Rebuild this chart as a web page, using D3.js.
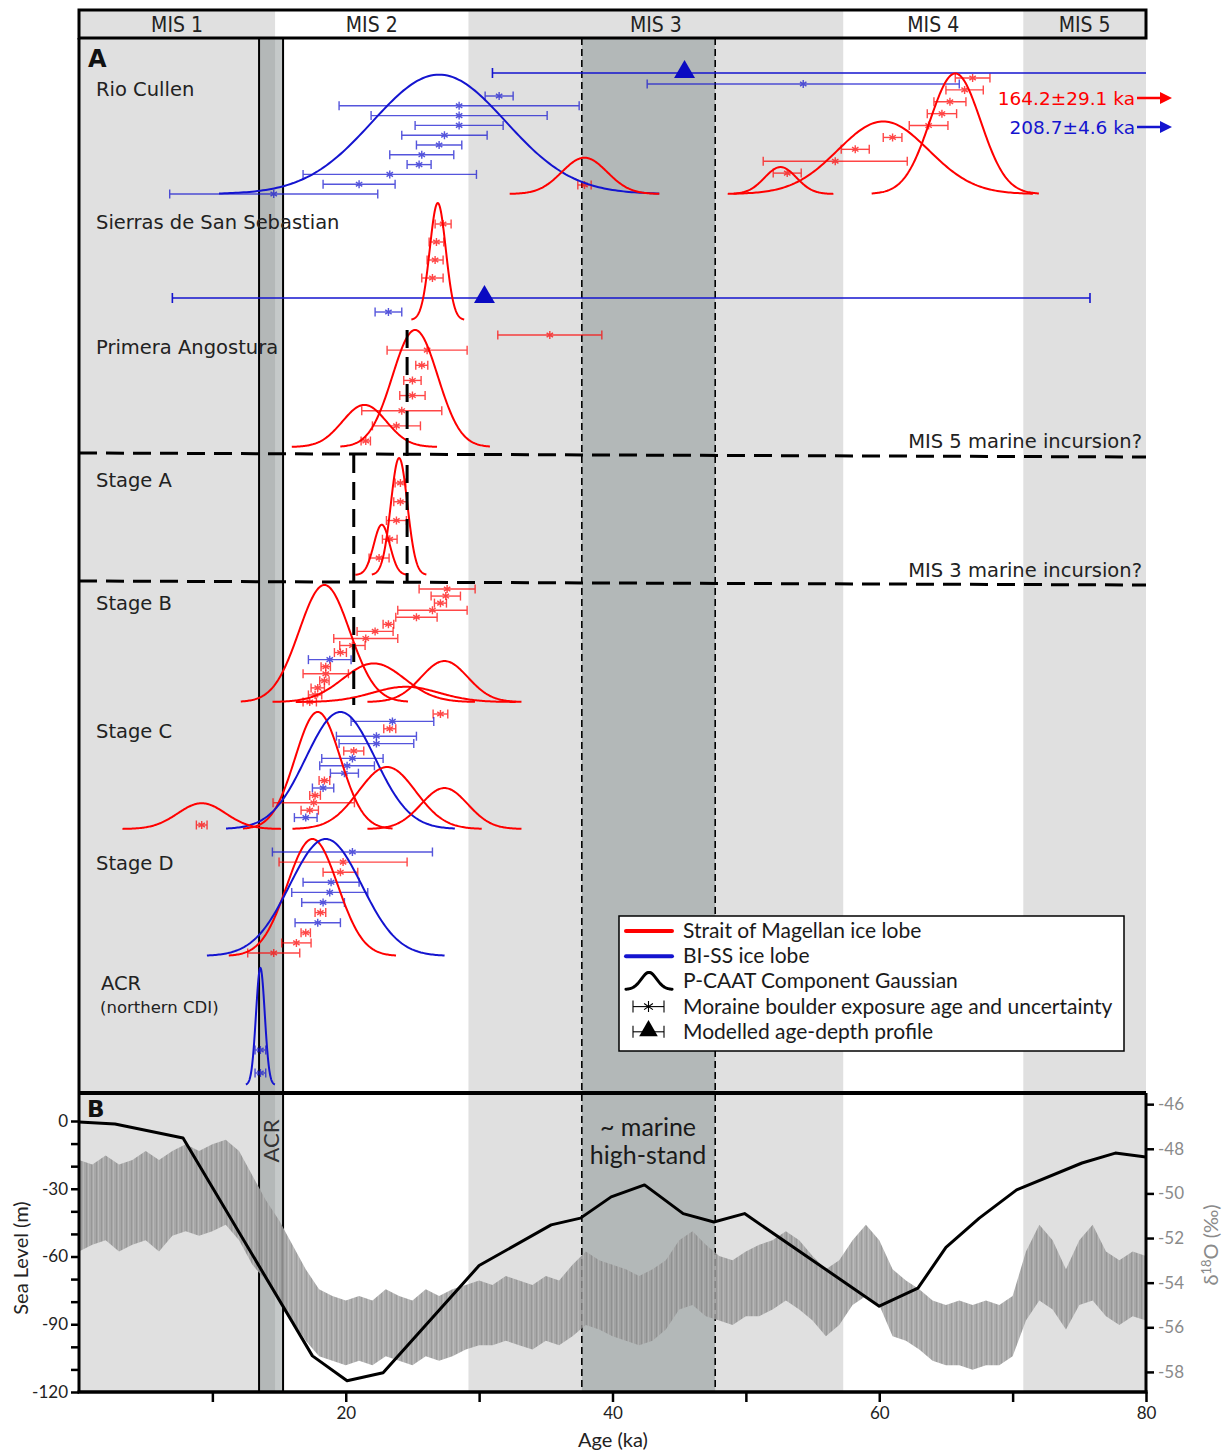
<!DOCTYPE html>
<html>
<head>
<meta charset="utf-8">
<script src="https://cdn.jsdelivr.net/npm/d3@7"></script>
<style>
body { margin: 0; background: #fff; }
text { font-family: "DejaVu Sans", sans-serif; }
</style>
</head>
<body>
<svg id="chart" width="1226" height="1453"></svg>
<script>
// ---- data ----
var misNames = ["MIS 1", "MIS 2", "MIS 3", "MIS 4", "MIS 5"];
var misBounds = [0, 14.7, 29.2, 57.3, 70.8, 80];
var highStand = [37.7, 47.7];
var acrBand = [13.5, 15.3];
var stageBounds = [20.6, 24.6];

var siteNames = ["Rio Cullen", "Sierras de San Sebastian", "Primera Angostura", "Stage A", "Stage B", "Stage C", "Stage D", "ACR"];

// P-CAAT component gaussians: site, lobe (M = Magellan, B = BI-SS), mean ka, sd ka, relative height
var gaussians = [
  [0, "B", 27.0, 5.0, 1.02],
  [0, "M", 37.9, 1.7, 0.31],
  [0, "M", 52.6, 1.2, 0.23],
  [0, "M", 60.3, 3.4, 0.62],
  [0, "M", 65.7, 1.9, 1.03],
  [1, "M", 26.9, 0.6, 1.0],
  [2, "M", 25.2, 1.7, 1.0],
  [2, "M", 21.4, 1.65, 0.36],
  [3, "M", 24.0, 0.62, 1.0],
  [3, "M", 22.7, 0.6, 0.43],
  [4, "M", 18.4, 1.9, 1.0],
  [4, "M", 22.1, 2.3, 0.33],
  [4, "M", 27.4, 1.75, 0.35],
  [4, "M", 24.5, 2.5, 0.13],
  [5, "M", 17.9, 1.7, 1.0],
  [5, "B", 19.6, 2.6, 1.0],
  [5, "M", 23.1, 2.15, 0.53],
  [5, "M", 27.4, 1.75, 0.35],
  [5, "M", 9.2, 1.8, 0.22],
  [6, "M", 17.5, 1.9, 1.0],
  [6, "B", 18.5, 2.7, 1.0],
  [7, "B", 13.6, 0.33, 1.0]
];

// boulder exposure ages: age, uncertainty, lobe
var rioCullenBI = [[31.5, 1.05, "B"], [28.5, 9.0, "B"], [28.5, 6.6, "B"], [28.5, 3.3, "B"], [27.4, 3.2, "B"], [27.0, 1.7, "B"],
  [25.7, 2.4, "B"], [25.5, 0.9, "B"], [23.3, 6.5, "B"], [21.0, 2.7, "B"], [14.6, 7.8, "B"]];
var rioCullenSM = [[67.0, 1.3, "M"], [66.4, 1.4, "M"], [65.3, 1.2, "M"], [64.7, 1.1, "M"], [63.7, 1.45, "M"], [61.0, 0.7, "M"],
  [58.2, 1.05, "M"], [56.7, 5.4, "M"], [53.1, 1.05, "M"], [37.9, 0.5, "M"]];
var rioCullenBI2 = [[54.3, 11.7, "B"]];
var sierrasSM = [[27.3, 0.6, "M"], [26.8, 0.55, "M"], [26.7, 0.6, "M"], [26.5, 0.8, "M"]];
var sierrasBI = [[23.2, 1.0, "B"]];
var primeraSM = [[35.3, 3.9, "M"], [26.1, 3.0, "M"], [25.7, 0.45, "M"], [25.0, 0.65, "M"], [25.0, 0.95, "M"],
  [24.2, 3.0, "M"], [23.8, 1.8, "M"], [21.5, 0.35, "M"]];
var stageA = [[24.1, 0.4, "M"], [24.1, 0.5, "M"], [23.8, 0.75, "M"], [23.3, 0.55, "M"], [22.5, 0.75, "M"]];
var stageB = [[27.6, 2.1, "M"], [27.5, 1.1, "M"], [27.1, 0.45, "M"], [26.5, 2.6, "M"], [25.3, 1.55, "M"], [23.2, 0.4, "M"],
  [22.2, 1.35, "M"], [21.5, 2.4, "M"], [20.5, 0.95, "M"], [19.6, 0.45, "M"], [18.8, 1.6, "B"], [18.5, 0.35, "M"],
  [18.5, 1.7, "M"], [18.4, 0.35, "M"], [17.9, 0.5, "M"], [17.7, 0.5, "M"], [17.3, 0.5, "M"]];
var stageC = [[27.1, 0.55, "M"], [23.5, 3.1, "B"], [23.3, 0.45, "M"], [22.3, 3.0, "B"], [22.3, 2.8, "B"], [20.6, 0.75, "M"],
  [20.5, 2.3, "B"], [20.1, 2.05, "B"], [19.9, 1.05, "B"], [18.4, 0.4, "M"], [18.3, 0.8, "B"], [17.7, 0.4, "M"],
  [17.6, 3.05, "M"], [17.3, 0.65, "M"], [17.0, 0.85, "B"], [9.2, 0.4, "M"]];
var stageD = [[20.5, 6.0, "B"], [19.8, 4.8, "M"], [19.6, 1.3, "M"], [18.9, 2.1, "B"], [18.8, 2.85, "B"], [18.3, 1.6, "B"],
  [18.1, 0.4, "M"], [17.9, 1.7, "B"], [17.0, 0.35, "M"], [16.3, 1.1, "M"], [14.6, 1.95, "M"]];
var acrBI = [[13.6, 0.4, "B"], [13.6, 0.4, "B"]];

// modelled age-depth profiles: age, lower, upper (null = beyond the axis)
var modelledAges = [[45.4, 31.0, null], [30.4, 7.0, 75.8]];
// ages off the right of the scale
var offScale = [[164.2, 29.1, "M"], [208.7, 4.6, "B"]];

// sea level (m)
var seaAge = [0, 2.7, 7.8, 17.5, 20.1, 22.8, 30.0, 35.4, 37.6, 39.9, 42.4, 45.3, 47.6, 49.9, 60.0, 62.9, 65.0, 67.5, 70.3, 75.2, 77.7, 80];
var seaLevel = [-0.4, -1.3, -7.5, -104, -115, -111.5, -64, -46, -43, -33.6, -28.3, -41, -44.7, -41, -82, -74, -56, -43, -30.5, -18.6, -14.2, -16];

// d18O record, envelope read every 1 ka (permil)
var isoAge = d3.range(0, 81);
var isoHigh = [-48.5, -48.7, -48.3, -48.7, -48.5, -48.1, -48.5, -48.1, -47.8, -48.1, -47.8, -47.6, -48.1, -49.2, -50.3, -51.2, -52.3,
  -53.4, -54.3, -54.6, -54.8, -54.6, -54.8, -54.3, -54.6, -54.8, -54.3, -54.6, -54.3, -54.1, -53.9, -54.1, -53.7, -53.9,
  -54.1, -53.7, -53.9, -53.2, -52.6, -53.0, -53.2, -53.4, -53.7, -53.4, -53.0, -52.1, -51.7, -52.3, -52.8, -53.0, -52.6,
  -52.3, -52.1, -51.7, -52.1, -52.8, -53.4, -53.0, -52.1, -51.4, -52.1, -53.4, -53.9, -54.3, -54.8, -55.0, -54.8, -55.0,
  -54.8, -55.0, -54.6, -52.6, -51.4, -52.1, -53.4, -52.1, -51.4, -52.6, -53.0, -52.6, -52.8];
var isoLow = [-52.6, -52.3, -52.1, -52.6, -52.3, -52.1, -52.6, -51.9, -51.7, -51.9, -51.7, -51.4, -52.1, -53.2, -53.9, -54.8, -55.7,
  -56.6, -57.3, -57.5, -57.7, -57.5, -57.7, -57.3, -57.5, -57.7, -57.3, -57.5, -57.3, -57.0, -56.8, -56.8, -56.6, -56.8,
  -57.0, -56.6, -56.8, -56.4, -55.9, -56.1, -56.4, -56.6, -56.8, -56.6, -56.1, -55.2, -55.0, -55.5, -55.7, -55.9, -55.5,
  -55.5, -55.2, -54.8, -55.2, -55.7, -56.4, -55.9, -55.0, -54.6, -55.0, -56.4, -56.6, -57.0, -57.5, -57.7, -57.7, -57.9,
  -57.7, -57.7, -57.3, -55.7, -54.8, -55.2, -56.1, -55.0, -54.8, -55.5, -55.9, -55.5, -55.7];

var seaTicks = d3.range(-120, 1, 10);
var isoTicks = [-46, -48, -50, -52, -54, -56, -58];
var ageTicks = d3.range(10, 81, 10);

// ---- layout ----
var left = 79, right = 1146;
var headTop = 10, aTop = 38, bTop = 1093, bBot = 1392;
var siteLabelY = [89, 222, 347, 480, 603, 731, 863, 983];
var baselines = [194, 320, 447, 575, 702, 829, 956, 1085];
var gaussFull = 117;
var boulderRows = [
  [rioCullenBI, 96, 194], [rioCullenSM, 78, 185], [rioCullenBI2, 84, 84],
  [sierrasSM, 224, 278], [sierrasBI, 312, 312], [primeraSM, 335, 441],
  [stageA, 483, 558], [stageB, 589, 702], [stageC, 714, 825], [stageD, 852, 953], [acrBI, 1050, 1073]
];
var modelledRows = [73, 298];
var offScaleRows = [98, 127];

var red = "#ff0000", blue = "#1414cf", lightGrey = "#e0e0e0", darkGrey = "#b3b8b8";
function lobeColor(l) { return l === "M" ? red : blue; }

var x = d3.scaleLinear().domain([0, 80]).range([left, right]);
var seaY = d3.scaleLinear().domain([-120, 12.4]).range([bBot, bTop]);
var isoY = d3.scaleLinear().domain([-58.9, -45.5]).range([bBot, bTop]);

var svg = d3.select("#chart");
var defs = svg.append("defs");
defs.append("clipPath").attr("id", "clipA").append("rect")
  .attr("x", left).attr("y", aTop).attr("width", right - left).attr("height", bTop - aTop);
defs.append("clipPath").attr("id", "clipB").append("rect")
  .attr("x", left).attr("y", bTop).attr("width", right - left).attr("height", bBot - bTop);
// hatch texture for the dense d18O record
var pat = defs.append("pattern").attr("id", "isoTex").attr("patternUnits", "userSpaceOnUse")
  .attr("width", 5).attr("height", 40);
pat.append("rect").attr("width", 5).attr("height", 40).attr("fill", "#9d9d9d");
pat.append("rect").attr("x", 1).attr("width", 1).attr("height", 40).attr("fill", "#8a8a8a");
pat.append("rect").attr("x", 3).attr("width", 1).attr("height", 40).attr("fill", "#b0b0b0");

// background bands
function shade(y0, y1, withExtra) {
  misNames.forEach(function(n, i) {
    if (i % 2 === 0) {
      svg.append("rect").attr("x", x(misBounds[i])).attr("width", x(misBounds[i + 1]) - x(misBounds[i]))
        .attr("y", y0).attr("height", y1 - y0).attr("fill", lightGrey);
    }
  });
  if (withExtra) {
    svg.append("rect").attr("x", x(highStand[0])).attr("width", x(highStand[1]) - x(highStand[0]))
      .attr("y", y0).attr("height", y1 - y0).attr("fill", darkGrey);
    svg.append("rect").attr("x", x(acrBand[0])).attr("width", x(acrBand[1]) - x(acrBand[0]))
      .attr("y", y0).attr("height", y1 - y0).attr("fill", "#7f8787").attr("opacity", 0.45);
  }
}
shade(headTop, aTop, false);
shade(aTop, bTop, true);
shade(bTop, bBot, true);

// MIS header
misNames.forEach(function(n, i) {
  svg.append("text").attr("x", (x(misBounds[i]) + x(misBounds[i + 1])) / 2).attr("y", 32)
    .attr("text-anchor", "middle").attr("font-size", 21)
    .style("font-family", "'DejaVu Sans Condensed', 'Liberation Sans Narrow', 'DejaVu Sans'")
    .style("font-stretch", "condensed").attr("fill", "#222").text(n);
});
svg.append("rect").attr("x", left).attr("y", headTop).attr("width", right - left).attr("height", aTop - headTop)
  .attr("fill", "none").attr("stroke", "#000").attr("stroke-width", 3);

// vertical reference lines
highStand.forEach(function(a) {
  svg.append("line").attr("x1", x(a)).attr("x2", x(a)).attr("y1", aTop).attr("y2", bBot)
    .attr("stroke", "#000").attr("stroke-width", 1.6).attr("stroke-dasharray", "7,4");
});
acrBand.forEach(function(a) {
  svg.append("line").attr("x1", x(a)).attr("x2", x(a)).attr("y1", aTop).attr("y2", bBot)
    .attr("stroke", "#000").attr("stroke-width", 2);
});

// ---- panel A ----
var pa = svg.append("g").attr("clip-path", "url(#clipA)");

// boulder error bars
function asterisk(g, cx, cy, r) {
  g.append("path").attr("d",
    "M" + cx + "," + (cy - r) + "L" + cx + "," + (cy + r) +
    "M" + (cx - r * 0.8) + "," + (cy - r * 0.55) + "L" + (cx + r * 0.8) + "," + (cy + r * 0.55) +
    "M" + (cx - r * 0.8) + "," + (cy + r * 0.55) + "L" + (cx + r * 0.8) + "," + (cy - r * 0.55));
}
boulderRows.forEach(function(grp) {
  var rows = grp[0];
  var ys = d3.scalePoint().domain(d3.range(rows.length)).range([grp[1], grp[2]]);
  rows.forEach(function(d, i) {
    var yy = rows.length > 1 ? ys(i) : grp[1];
    var g = pa.append("g").attr("stroke", lobeColor(d[2])).attr("stroke-width", 1.4).attr("opacity", 0.72).attr("fill", "none");
    var x0 = x(d[0] - d[1]), x1 = x(d[0] + d[1]);
    g.append("line").attr("x1", x0).attr("x2", x1).attr("y1", yy).attr("y2", yy);
    g.append("line").attr("x1", x0).attr("x2", x0).attr("y1", yy - 4.5).attr("y2", yy + 4.5);
    g.append("line").attr("x1", x1).attr("x2", x1).attr("y1", yy - 4.5).attr("y2", yy + 4.5);
    asterisk(g, x(d[0]), yy, 4);
  });
});

// modelled age-depth profiles
modelledAges.forEach(function(d, i) {
  var yy = modelledRows[i];
  var xe = d[2] === null ? right + 10 : x(d[2]);
  var g = pa.append("g").attr("stroke", blue).attr("stroke-width", 1.6);
  g.append("line").attr("x1", x(d[1])).attr("x2", xe).attr("y1", yy).attr("y2", yy);
  g.append("line").attr("x1", x(d[1])).attr("x2", x(d[1])).attr("y1", yy - 5).attr("y2", yy + 5);
  if (d[2] !== null) g.append("line").attr("x1", xe).attr("x2", xe).attr("y1", yy - 5).attr("y2", yy + 5);
  pa.append("path").attr("d", d3.symbol().type(d3.symbolTriangle).size(190)())
    .attr("transform", "translate(" + x(d[0]) + "," + (yy - 1) + ")").attr("fill", "#0a0ac2");
});

// gaussians
gaussians.forEach(function(gs) {
  var base = baselines[gs[0]], mu = gs[2], sd = gs[3], amp = gs[4];
  var pts = d3.range(0, 161).map(function(k) { return mu - 3.3 * sd + k * 6.6 * sd / 160; });
  var line = d3.line()
    .x(function(a) { return x(a); })
    .y(function(a) { return base - amp * gaussFull * Math.exp(-0.5 * Math.pow((a - mu) / sd, 2)); });
  pa.append("path").attr("d", line(pts)).attr("fill", "none")
    .attr("stroke", lobeColor(gs[1])).attr("stroke-width", 2);
});

// stage boundaries (marine incursions)
var dash = { "stroke": "#000", "stroke-width": 3, "stroke-dasharray": "18,9" };
function dashed(x1, y1, x2, y2) {
  var l = svg.append("line").attr("x1", x1).attr("y1", y1).attr("x2", x2).attr("y2", y2);
  Object.keys(dash).forEach(function(k) { l.attr(k, dash[k]); });
}
dashed(left, 453, right, 457);
dashed(left, 581, right, 585);
dashed(x(stageBounds[0]), 455, x(stageBounds[0]), 705);
dashed(x(stageBounds[1]), 330, x(stageBounds[1]), 583);

svg.append("text").attr("x", 1142).attr("y", 448).attr("text-anchor", "end").attr("font-size", 19.5)
  .attr("fill", "#222").text("MIS 5 marine incursion?");
svg.append("text").attr("x", 1142).attr("y", 577).attr("text-anchor", "end").attr("font-size", 19.5)
  .attr("fill", "#222").text("MIS 3 marine incursion?");

// site labels
siteNames.forEach(function(n, i) {
  svg.append("text").attr("x", i === 7 ? 101 : 96).attr("y", siteLabelY[i] + 7)
    .attr("font-size", 19.5).attr("fill", "#222").text(n);
});
svg.append("text").attr("x", 100).attr("y", 1013).attr("font-size", 16.5).attr("fill", "#222").text("(northern CDI)");
svg.append("text").attr("x", 88).attr("y", 67).attr("font-size", 24).attr("font-weight", "bold").attr("fill", "#111").text("A");

// off-scale ages with arrows
offScale.forEach(function(d, i) {
  var yy = offScaleRows[i], c = lobeColor(d[2]);
  svg.append("text").attr("x", 1135).attr("y", yy + 7).attr("text-anchor", "end").attr("font-size", 18.5)
    .attr("fill", c).text(d[0].toFixed(1) + "\u00b1" + d[1].toFixed(1) + " ka");
  svg.append("line").attr("x1", 1137).attr("x2", 1162).attr("y1", yy).attr("y2", yy).attr("stroke", c).attr("stroke-width", 2.5);
  svg.append("path").attr("d", "M1160," + (yy - 6) + "L1172," + yy + "L1160," + (yy + 6) + "Z").attr("fill", c);
});

// legend
var legendItems = ["Strait of Magellan ice lobe", "BI-SS ice lobe", "P-CAAT Component Gaussian",
  "Moraine boulder exposure age and uncertainty", "Modelled age-depth profile"];
var lg = svg.append("g");
lg.append("rect").attr("x", 619).attr("y", 916).attr("width", 505).attr("height", 135)
  .attr("fill", "#fff").attr("stroke", "#000").attr("stroke-width", 1.5);
legendItems.forEach(function(t, i) {
  var yy = 931 + i * 25.2;
  lg.append("text").attr("x", 683).attr("y", yy + 7).attr("font-size", 21).style("font-family", "Lato")
    .attr("fill", "#1a1a1a").text(t);
  if (i < 2) {
    lg.append("line").attr("x1", 626).attr("x2", 672).attr("y1", yy).attr("y2", yy)
      .attr("stroke", i === 0 ? red : blue).attr("stroke-width", 4).attr("stroke-linecap", "round");
  } else if (i === 2) {
    var bump = d3.line().x(function(t) { return 649 + t * 7.7; })
      .y(function(t) { return yy + 8 - 17 * Math.exp(-t * t / 2); });
    lg.append("path").attr("d", bump(d3.range(-3, 3.01, 0.1))).attr("fill", "none")
      .attr("stroke", "#000").attr("stroke-width", 3).attr("stroke-linecap", "round");
  } else {
    var g = lg.append("g").attr("stroke", "#000").attr("stroke-width", 1.1);
    g.append("line").attr("x1", 633).attr("x2", 664).attr("y1", yy).attr("y2", yy);
    g.append("line").attr("x1", 633).attr("x2", 633).attr("y1", yy - 6).attr("y2", yy + 6);
    g.append("line").attr("x1", 664).attr("x2", 664).attr("y1", yy - 6).attr("y2", yy + 6);
    if (i === 3) asterisk(g, 648.5, yy, 5.5);
    else lg.append("path").attr("d", d3.symbol().type(d3.symbolTriangle).size(150)())
      .attr("transform", "translate(648.5," + (yy - 1) + ")").attr("fill", "#000");
  }
});

// ---- panel B ----
var pb = svg.append("g").attr("clip-path", "url(#clipB)");
var isoArea = d3.area()
  .x(function(a, i) { return x(isoAge[i]); })
  .y0(function(a, i) { return isoY(isoLow[i]); })
  .y1(function(a, i) { return isoY(isoHigh[i]); });
pb.append("path").attr("d", isoArea(isoAge)).attr("fill", "url(#isoTex)").attr("opacity", 0.85);

var seaLine = d3.line()
  .x(function(a, i) { return x(seaAge[i]); })
  .y(function(a, i) { return seaY(seaLevel[i]); });
pb.append("path").attr("d", seaLine(seaAge)).attr("fill", "none").attr("stroke", "#000")
  .attr("stroke-width", 3).attr("stroke-linejoin", "round");

svg.append("text").attr("transform", "translate(279,1141) rotate(-90)").attr("text-anchor", "middle")
  .attr("font-size", 22).style("font-family", "Lato").attr("fill", "#333").text("ACR");
svg.append("text").attr("x", 648).attr("y", 1136).attr("text-anchor", "middle").attr("font-size", 25)
  .style("font-family", "Lato").attr("fill", "#1a1a1a").text("~ marine");
svg.append("text").attr("x", 648).attr("y", 1164).attr("text-anchor", "middle").attr("font-size", 25)
  .style("font-family", "Lato").attr("fill", "#1a1a1a").text("high-stand");
svg.append("text").attr("x", 87).attr("y", 1117).attr("font-size", 23).attr("font-weight", "bold").attr("fill", "#111").text("B");

// axes
var axL = svg.append("g").attr("transform", "translate(" + left + ",0)")
  .call(d3.axisLeft(seaY).tickValues(seaTicks).tickSize(8).tickPadding(3)
    .tickFormat(function(d) { return d % 30 === 0 ? String(d) : ""; }));
var axR = svg.append("g").attr("transform", "translate(" + right + ",0)")
  .call(d3.axisRight(isoY).tickValues(isoTicks).tickSize(8).tickPadding(4)
    .tickFormat(function(d) { return String(d); }));
var axB = svg.append("g").attr("transform", "translate(0," + bBot + ")")
  .call(d3.axisBottom(x).tickValues(ageTicks).tickSize(10).tickPadding(5)
    .tickFormat(function(d) { return d % 20 === 0 ? String(d) : ""; }));
[axL, axR, axB].forEach(function(ax) {
  ax.select(".domain").remove();
  ax.selectAll(".tick line").attr("stroke", "#000").attr("stroke-width", 2.5);
  ax.selectAll(".tick text").attr("font-size", 17).style("font-family", "Lato").attr("fill", "#222");
});
axR.selectAll(".tick text").attr("fill", "#8a8a8a");

// frames
svg.append("line").attr("x1", left).attr("x2", left).attr("y1", aTop).attr("y2", bBot).attr("stroke", "#000").attr("stroke-width", 3);
svg.append("line").attr("x1", right).attr("x2", right).attr("y1", bTop).attr("y2", bBot).attr("stroke", "#000").attr("stroke-width", 3);
svg.append("line").attr("x1", left).attr("x2", right).attr("y1", bTop).attr("y2", bTop).attr("stroke", "#000").attr("stroke-width", 4);
svg.append("line").attr("x1", left - 1.5).attr("x2", right + 1.5).attr("y1", bBot).attr("y2", bBot).attr("stroke", "#000").attr("stroke-width", 3.5);

// axis titles
svg.append("text").attr("transform", "translate(28,1258) rotate(-90)").attr("text-anchor", "middle")
  .attr("font-size", 20).style("font-family", "Lato").attr("fill", "#222").text("Sea Level (m)");
svg.append("text").attr("x", 613).attr("y", 1447).attr("text-anchor", "middle")
  .attr("font-size", 20).style("font-family", "Lato").attr("fill", "#222").text("Age (ka)");
var iso = svg.append("text").attr("transform", "translate(1218,1245) rotate(-90)").attr("text-anchor", "middle")
  .attr("font-size", 20).style("font-family", "Lato").attr("fill", "#8a8a8a");
iso.append("tspan").text("\u03b4");
iso.append("tspan").attr("font-size", 13).attr("dy", -7).text("18");
iso.append("tspan").attr("dy", 7).text("O (\u2030)");
</script>
</body>
</html>
